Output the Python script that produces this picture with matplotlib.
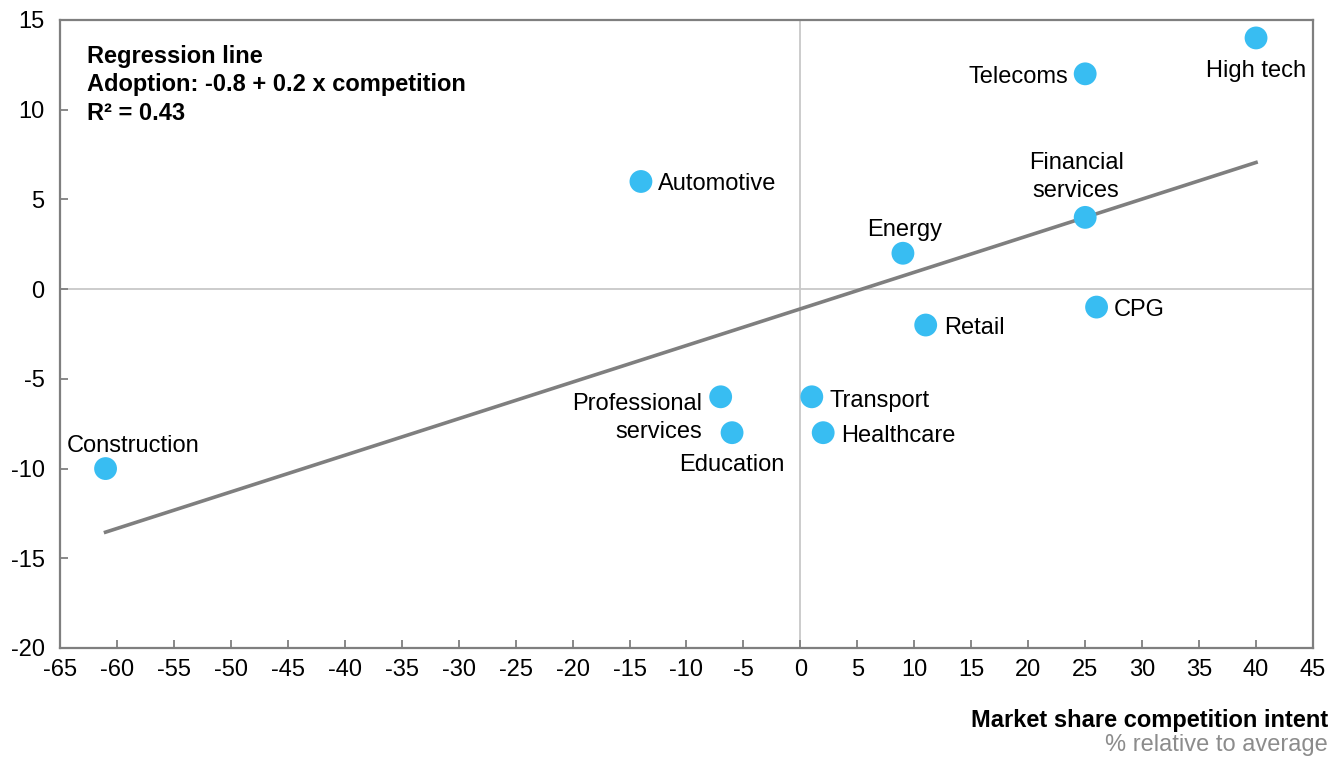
import matplotlib
matplotlib.use("Agg")
import matplotlib.pyplot as plt
import numpy as np

plt.rcParams['font.family'] = ['Liberation Sans', 'DejaVu Sans']
plt.rcParams['axes.unicode_minus'] = False

industries = ["High tech", "Telecoms", "Financial\nservices", "CPG", "Retail", "Energy",
              "Automotive", "Professional\nservices", "Education", "Transport",
              "Healthcare", "Construction"]
competition = [40, 25, 25, 26, 11, 9, -14, -7, -6, 1, 2, -61]
adoption = [14, 12, 4, -1, -2, 2, 6, -6, -8, -6, -8, -10]
reg_intercept = -1.1
reg_slope = 0.204
x_ticks = list(range(-65, 46, 5))
y_ticks = list(range(-20, 16, 5))
reg_text = ["Regression line", "Adoption: -0.8 + 0.2 x competition", "R² = 0.43"]

# label placement: (dx px, dy px up, ha)
placements = {
    "High tech": (0, -30, "center"),
    "Telecoms": (-17, 0, "right"),
    "Financial\nservices": (-9, 43, "center"),
    "CPG": (17, 0, "left"),
    "Retail": (18, 0, "left"),
    "Energy": (2, 26, "center"),
    "Automotive": (17, 0, "left"),
    "Professional\nservices": (-19, -18, "right"),
    "Education": (0, -29, "center"),
    "Transport": (18, -1, "left"),
    "Healthcare": (18, 0, "left"),
    "Construction": (28, 26, "center"),
}

FS = 17
dpi = 100
fig = plt.figure(figsize=(13.31, 7.58), dpi=dpi)
ax = fig.add_axes([60/1331, 1-648/758, (1313-60)/1331, (648-20)/758])

ax.axhline(0, color="#c8c8c8", lw=1.3, zorder=1)
ax.axvline(0, color="#c8c8c8", lw=1.3, zorder=1)

xs = np.array([min(competition), max(competition)])
ax.plot(xs, reg_intercept + reg_slope * xs, color="#7f7f7f", lw=2.6, zorder=2)

ax.scatter(competition, adoption, s=270, color="#38BDF2", edgecolor="none", zorder=3)

pt = 72 / dpi
for name, x, y in zip(industries, competition, adoption):
    dx, dy, ha = placements[name]
    ax.annotate(name, (x, y), xytext=(dx*pt, (dy-3)*pt), textcoords="offset points",
                ha=ha, va="center", fontsize=FS, color="black", linespacing=1.35, zorder=4)

ax.set_xlim(-65, 45)
ax.set_ylim(-20, 15)
ax.set_xticks(x_ticks)
ax.set_yticks(y_ticks)
ax.tick_params(direction="in", length=6, width=1.3, color="#7f7f7f", labelsize=FS,
               labelcolor="black")
ax.tick_params(axis="x", pad=8)
ax.tick_params(axis="y", pad=11)
for s in ax.spines.values():
    s.set_color("#7f7f7f")
    s.set_linewidth(1.6)

for i, line in enumerate(reg_text):
    fig.text(87/1331, 1-(56+29*i)/758, line, ha="left", va="center",
             fontsize=FS, fontweight="bold", color="black")

fig.text(1328/1331, 1-720/758, "Market share competition intent", ha="right", va="center",
         fontsize=FS, fontweight="bold", color="black")
fig.text(1328/1331, 1-745/758, "% relative to average", ha="right", va="center",
         fontsize=FS, color="#8c8c8c")

fig.savefig("out.png", dpi=dpi)
